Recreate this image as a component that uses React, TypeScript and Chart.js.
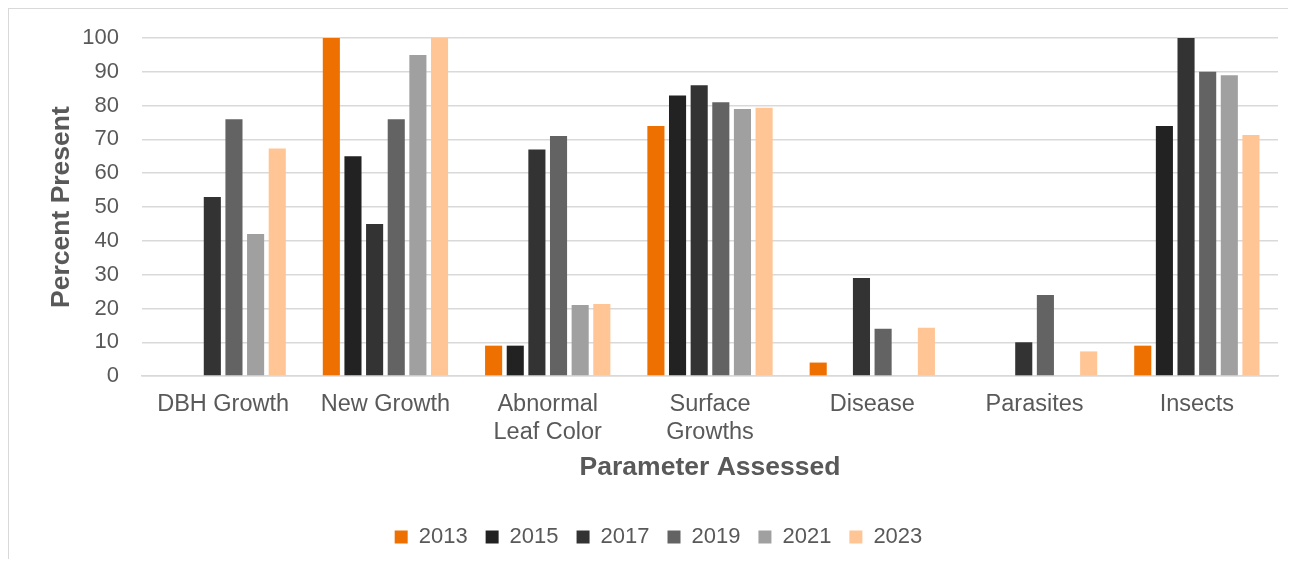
import React, { useEffect, useRef } from "react";
import { Chart, registerables } from "chart.js";

Chart.register(...registerables);

const categories: (string | string[])[] = [
  "DBH Growth",
  "New Growth",
  ["Abnormal", "Leaf Color"],
  ["Surface", "Growths"],
  "Disease",
  "Parasites",
  "Insects",
];

const years = ["2013", "2015", "2017", "2019", "2021", "2023"];

const v2013 = [0, 100, 9, 74, 4, 0, 9];
const v2015 = [0, 65, 9, 83, 0, 0, 74];
const v2017 = [53, 45, 67, 86, 29, 10, 100];
const v2019 = [76, 76, 71, 81, 14, 24, 90];
const v2021 = [42, 95, 21, 79, 0, 0, 89];
const v2023 = [67.3, 100, 21.3, 79.4, 14.3, 7.3, 71.3];

const seriesValues = [v2013, v2015, v2017, v2019, v2021, v2023];
const colors = ["#EE7000", "#222222", "#333333", "#636363", "#A0A0A0", "#FFC594"];

const yTicks = [0, 10, 20, 30, 40, 50, 60, 70, 80, 90, 100];

const FONT = "'Liberation Sans', Arial, sans-serif";
const TEXT = "#595959";

export default function App() {
  const ref = useRef<HTMLCanvasElement | null>(null);

  useEffect(() => {
    if (!ref.current) return;
    const chart = new Chart(ref.current, {
      type: "bar",
      data: {
        labels: categories,
        datasets: years.map((y, i) => ({
          label: y,
          data: seriesValues[i],
          backgroundColor: colors[i],
          borderWidth: 0,
          categoryPercentage: 0.8,
          barPercentage: 0.79,
        })),
      },
      options: {
        responsive: false,
        animation: false,
        layout: { padding: { left: 30, right: 18, top: 29, bottom: 0 } },
        plugins: {
          tooltip: { enabled: false },
          legend: {
            position: "bottom",
            labels: {
              boxWidth: 13,
              boxHeight: 13,
              padding: 18,
              color: TEXT,
              font: { family: FONT, size: 22 },
            },
          },
        },
        scales: {
          x: {
            grid: { display: false, drawTicks: false },
            border: { display: true, color: "#d9d9d9", width: 1.5 },
            ticks: {
              color: TEXT,
              font: { family: FONT, size: 23.5, lineHeight: 1.2 },
              padding: 14,
              maxRotation: 0,
              autoSkip: false,
            },
            title: {
              display: true,
              text: "Parameter Assessed",
              color: TEXT,
              font: { family: FONT, size: 26.5, weight: "bold", lineHeight: 0.574 },
              padding: { top: 0, bottom: 32.3 },
            },
          },
          y: {
            min: 0,
            max: 100,
            afterBuildTicks: (axis: any) => {
              axis.ticks = yTicks.map((v) => ({ value: v }));
            },
            afterFit: (axis: any) => {
              axis.width = 103;
              axis.paddingTop = 0;
              axis.paddingBottom = 0;
            },
            grid: { color: "#d9d9d9", lineWidth: 1.5, drawTicks: false },
            border: { display: false },
            ticks: {
              color: TEXT,
              font: { family: FONT, size: 22 },
              padding: 23,
            },
            title: {
              display: true,
              text: "Percent Present",
              color: TEXT,
              font: { family: FONT, size: 26.5, weight: "bold" },
              padding: { top: 7, bottom: 3 },
            },
          },
        },
      },
    });
    return () => chart.destroy();
  }, []);

  return (
    <div
      style={{
        width: 1288,
        height: 550,
        borderTop: "1px solid #d9d9d9",
        borderLeft: "1px solid #d9d9d9",
        overflow: "hidden",
        background: "#fff",
      }}
    >
      <canvas ref={ref} width={1287} height={549} style={{ display: "block" }} />
    </div>
  );
}
